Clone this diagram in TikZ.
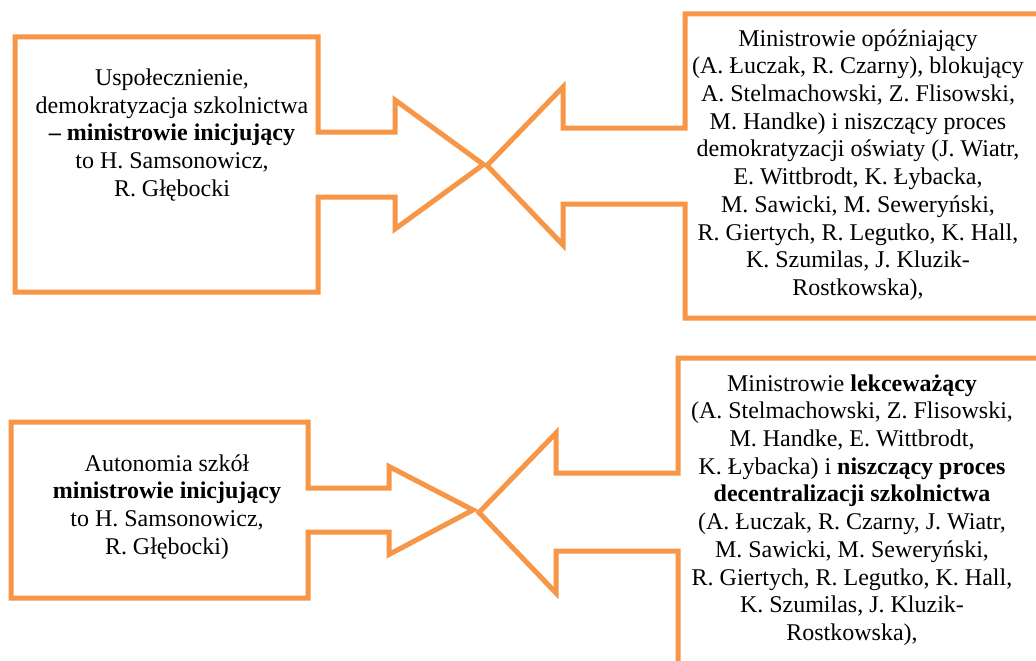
\documentclass[tikz,border=0pt]{standalone}
\usepackage{fontspec}
\setmainfont{Liberation Serif}
\definecolor{accorange}{HTML}{F79646}
\begin{document}
\begin{tikzpicture}[x=1pt,y=-1pt,
  shapeline/.style={draw=accorange,line width=5pt,line join=miter,miter limit=10},
  boxtext/.style={align=center,inner sep=0pt,font=\fontsize{24}{27.7}\selectfont}]
\clip (0,0) rectangle (1036,661);
\fill[white] (0,0) rectangle (1036,661);
% top-left arrow box
\draw[shapeline] (15,37) -- (318,37) -- (318,132) -- (395,132) -- (395,100) -- (483.5,164.5)
  -- (395,229) -- (395,197) -- (318,197) -- (318,292) -- (15,292) -- cycle;
% top-right arrow box
\draw[shapeline] (1050,14) -- (685,14) -- (685,128) -- (563,128) -- (563,87) -- (487,165.5)
  -- (563,245) -- (563,204) -- (685,204) -- (685,318) -- (1050,318) -- cycle;
% bottom-left arrow box
\draw[shapeline] (11,422) -- (308,422) -- (308,488) -- (389,488) -- (389,466.5) -- (473,510)
  -- (389,554.5) -- (389,532) -- (308,532) -- (308,598) -- (11,598) -- cycle;
% bottom-right arrow box
\draw[shapeline] (1050,358) -- (678,358) -- (678,473) -- (556,473) -- (556,433) -- (479,512.5)
  -- (556,593) -- (556,551) -- (678,551) -- (678,680) -- (1050,680) -- cycle;
\node[boxtext] (tl) at (172,135) {Uspołecznienie,\\demokratyzacja szkolnictwa\\\textbf{– ministrowie inicjujący}\\to H. Samsonowicz,\\R. Głębocki};
\node[boxtext] (tr) at (858,165) {Ministrowie opóźniający\\(A. Łuczak, R. Czarny), blokujący\\A. Stelmachowski, Z. Flisowski,\\M. Handke) i niszczący proces\\demokratyzacji oświaty (J. Wiatr,\\E. Wittbrodt, K. Łybacka,\\M. Sawicki, M. Seweryński,\\R. Giertych, R. Legutko, K. Hall,\\K. Szumilas, J. Kluzik-\\Rostkowska),};
\node[boxtext] (bl) at (167,507) {Autonomia szkół\\\textbf{ministrowie inicjujący}\\to H. Samsonowicz,\\R. Głębocki)};
\node[boxtext] (br) at (852,510) {Ministrowie \textbf{lekceważący}\\(A. Stelmachowski, Z. Flisowski,\\M. Handke, E. Wittbrodt,\\K. Łybacka) i \textbf{niszczący proces}\\\textbf{decentralizacji szkolnictwa}\\(A. Łuczak, R. Czarny, J. Wiatr,\\M. Sawicki, M. Seweryński,\\R. Giertych, R. Legutko, K. Hall,\\K. Szumilas, J. Kluzik-\\Rostkowska),};
\end{tikzpicture}
\end{document}
